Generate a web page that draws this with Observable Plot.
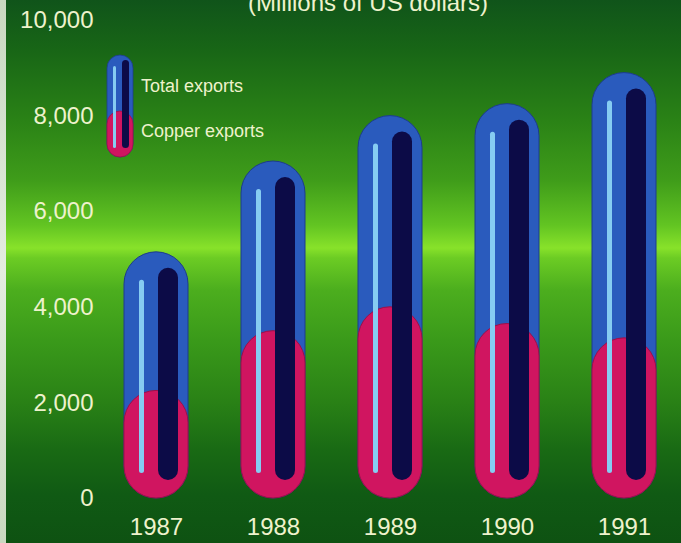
<!DOCTYPE html>
<html><head><meta charset="utf-8">
<script src="https://cdn.jsdelivr.net/npm/d3@7"></script>
<script src="https://cdn.jsdelivr.net/npm/@observablehq/plot@0.6"></script>
<style>
html,body{margin:0;padding:0;background:#dfe9d6;}
#wrap{position:relative;width:681px;height:543px;overflow:hidden;font-family:"Liberation Sans",Arial,sans-serif;}
#bg{position:absolute;left:6px;top:0;width:675px;height:543px;
background:linear-gradient(to bottom,#10541a 0px,#186616 50px,#2a8216 120px,#3f9c1a 180px,#62c422 225px,#88e22a 248px,#6ccc24 258px,#4cae1e 290px,#3a9a1a 340px,#2a8216 400px,#196a14 450px,#105a14 495px,#0e5212 543px);}
#edge{position:absolute;left:0;top:0;width:6px;height:543px;background:linear-gradient(to bottom,#c9d8c0,#e4ece0 50%,#c9d8c0);}
#plot{position:absolute;left:0;top:0;}
#legend{position:absolute;left:0;top:0;}
#title{position:absolute;left:248px;top:-11px;font-size:24px;color:#eef2cc;white-space:nowrap;}
</style></head>
<body>
<div id="wrap">
<div id="edge"></div>
<div id="bg"></div>
<div id="plot"></div>
<svg id="legend" width="681" height="543" font-family="Liberation Sans, Arial, sans-serif">
  <rect x="107" y="55" width="26" height="102" rx="13" fill="#2a5bbd" stroke="#1d3c8c" stroke-width="0.8"/>
  <rect x="107" y="111" width="26" height="46" rx="13" fill="#d01560" stroke="#9c1048" stroke-width="0.8"/>
  <rect x="122" y="60" width="7" height="88" rx="3.5" fill="#0c0b47"/>
  <rect x="113" y="66" width="3" height="82" rx="1.5" fill="#86ccf2"/>
  <text x="141" y="92" font-size="18" fill="#eef2cc">Total exports</text>
  <text x="141" y="137" font-size="18" fill="#eef2cc">Copper exports</text>
</svg>
<div id="title">(Millions of US dollars)</div>
</div>
<script>
const years = ["1987", "1988", "1989", "1990", "1991"];
const totalExports = [5150, 7050, 8000, 8250, 8900];
const copperExports = [2250, 3500, 4000, 3650, 3350];
const yTicks = [0, 2000, 4000, 6000, 8000, 10000];

const rows = years.map((year, i) => ({year, total: totalExports[i], copper: copperExports[i]}));
const fmt = d3.format(",");

const chart = Plot.plot({
  width: 681,
  height: 543,
  marginLeft: 123,
  marginRight: 25,
  marginTop: 20,
  marginBottom: 45,
  style: {background: "transparent", color: "#eef2cc", fontFamily: "Liberation Sans, Arial, sans-serif", fontSize: "24px"},
  x: {domain: years, paddingInner: 0.454, paddingOuter: 0, label: null, tickSize: 0, tickPadding: 19},
  y: {domain: [0, 10000], ticks: yTicks, tickFormat: d => fmt(d), label: null, tickSize: 0, tickPadding: 30},
  marks: [
    Plot.barY(rows, {x: "year", y: "total", fill: "#2a5bbd", stroke: "#1d3c8c", strokeWidth: 1, rx: 32}),
    Plot.barY(rows, {x: "year", y: "copper", fill: "#d01560", stroke: "#9c1048", strokeWidth: 1, rx: 32}),
    Plot.barY(rows, {x: "year", y: "total", fill: "#0c0b47", insetLeft: 34, insetRight: 10, insetTop: 16, insetBottom: 18, rx: 10}),
    Plot.barY(rows, {x: "year", y: "total", fill: "#86ccf2", insetLeft: 15, insetRight: 44, insetTop: 28, insetBottom: 25, rx: 2.5})
  ]
});
document.getElementById("plot").appendChild(chart);
</script>
</body></html>
